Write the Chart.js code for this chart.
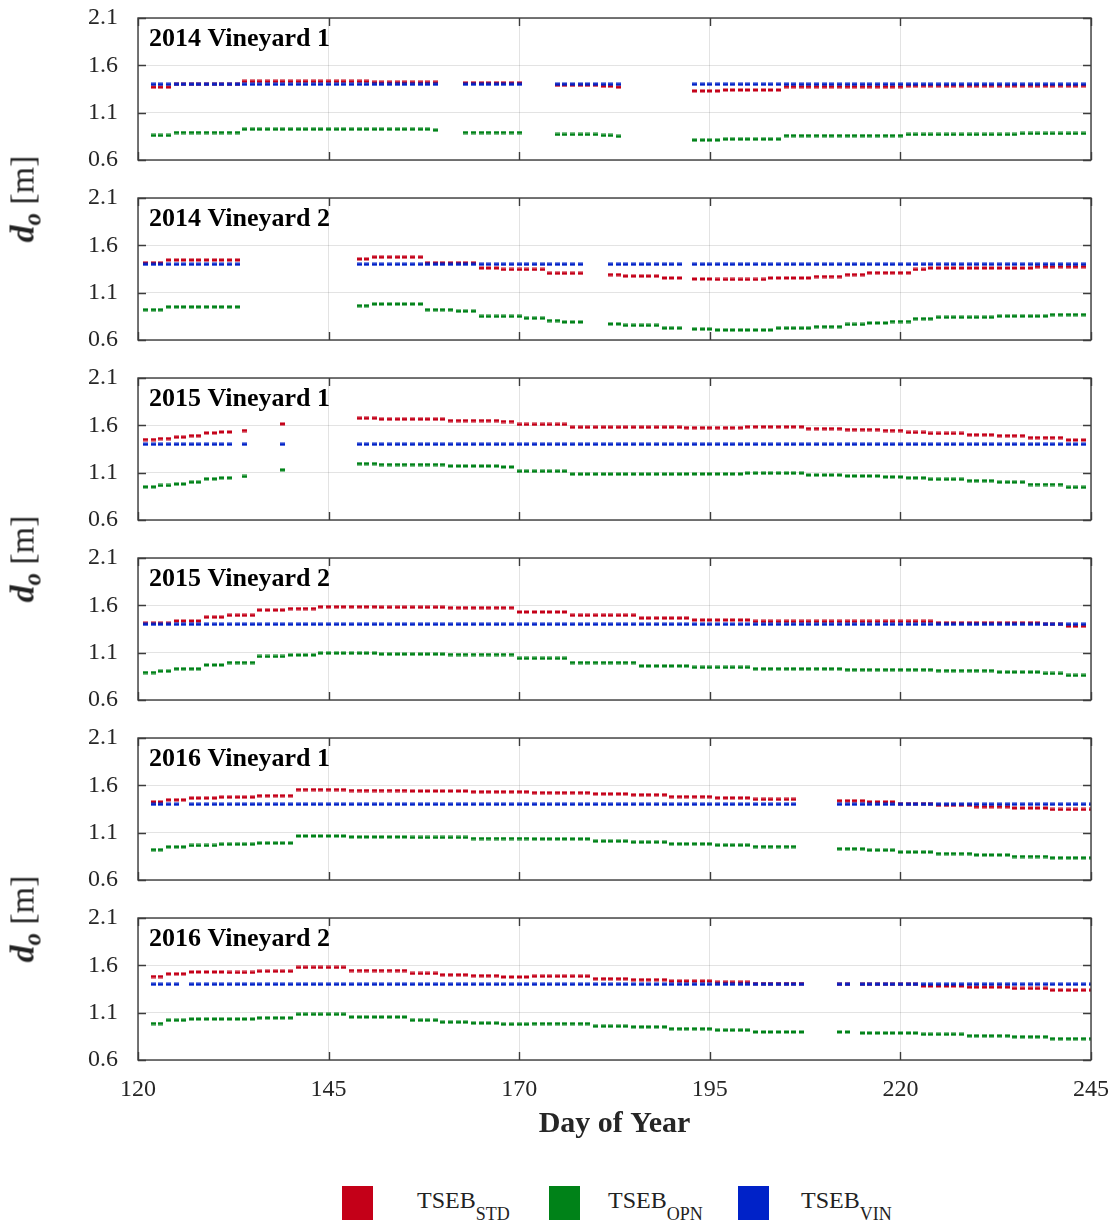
<!DOCTYPE html>
<html>
<head>
<meta charset="utf-8">
<title>Zero-plane displacement by vineyard</title>
<script src="https://cdn.jsdelivr.net/npm/chart.js@4.4.1/dist/chart.umd.min.js"></script>
<style>
    body { margin: 0; background: #fff; }
    #page {
        position: relative; width: 1119px; height: 1228px; overflow: hidden;
        font-family: 'Liberation Serif', 'Times New Roman', serif; color: #262626;
    }
    canvas.panel { position: absolute; left: 0; }
    .ytitle {
        position: absolute; left: 24px; font-size: 34px; line-height: 34px; white-space: nowrap;
        transform: translate(-50%, -50%) rotate(-90deg); color: #222;
    }
    .ytitle b { font-style: italic; }
    .ytitle .sub { position: relative; top: 0.3em; font-size: 0.72em; }
    .legend-box { position: absolute; width: 31px; height: 34px; top: 1186px; }
    .legend-text { position: absolute; top: 1188px; font-size: 24px; line-height: 24px; white-space: nowrap; color: #222; }
    .legend-text .sub { position: relative; top: 12px; font-size: 18px; }
</style>
</head>
<body>
<div id="page"></div>
<script>
// --- 1. DATA (runs: [first day, last day, d_o in m]) ---
const dayTicks = [120, 145, 170, 195, 220, 245];
const doTicks = [0.6, 1.1, 1.6, 2.1];
const panelTitles = ['2014 Vineyard 1', '2014 Vineyard 2', '2015 Vineyard 1',
                     '2015 Vineyard 2', '2016 Vineyard 1', '2016 Vineyard 2'];
const seriesNames = ['STD', 'OPN', 'VIN'];
const seriesColors = ['#c40018', '#008218', '#0022c8'];

const std2014v1 = [[122,124,1.37],[125,133,1.40],[134,150,1.43],[151,159,1.42],[163,170,1.415],[175,180,1.39],[181,182,1.38],[183,183,1.37],[193,196,1.33],[197,204,1.34],[205,220,1.375],[221,244,1.385]];
const opn2014v1 = [[122,124,0.86],[125,133,0.89],[134,158,0.925],[159,159,0.915],[163,170,0.89],[175,180,0.87],[181,182,0.86],[183,183,0.85],[193,196,0.81],[197,204,0.82],[205,220,0.857],[221,235,0.87],[236,244,0.88]];
const vin2014v1 = [[122,159,1.40],[163,170,1.40],[175,183,1.40],[193,244,1.40]];

const std2014v2 = [[121,123,1.415],[124,133,1.445],[149,150,1.455],[151,157,1.475],[158,164,1.415],[165,167,1.36],[168,173,1.345],[174,178,1.305],[182,183,1.29],[184,188,1.275],[189,191,1.255],[193,195,1.245],[196,202,1.24],[203,208,1.255],[209,212,1.27],[213,215,1.29],[216,221,1.31],[222,223,1.345],[224,237,1.36],[238,244,1.375]];
const opn2014v2 = [[121,123,0.92],[124,133,0.95],[149,150,0.962],[151,157,0.98],[158,161,0.92],[162,164,0.905],[165,170,0.85],[171,173,0.83],[174,175,0.805],[176,178,0.79],[182,183,0.77],[184,188,0.755],[189,191,0.725],[193,195,0.715],[196,203,0.705],[204,208,0.725],[209,212,0.74],[213,215,0.765],[216,218,0.78],[219,221,0.795],[222,224,0.825],[225,232,0.84],[233,239,0.852],[240,244,0.868]];
const vin2014v2 = [[121,133,1.40],[149,178,1.40],[182,191,1.40],[193,244,1.40]];

const std2015v1 = [[121,122,1.45],[123,124,1.46],[125,126,1.475],[127,128,1.49],[129,130,1.52],[131,132,1.53],[134,134,1.545],[139,139,1.615],[149,151,1.675],[152,160,1.665],[161,167,1.65],[168,169,1.64],[170,176,1.61],[177,191,1.58],[192,199,1.575],[200,207,1.585],[208,212,1.565],[213,217,1.555],[218,220,1.545],[221,223,1.525],[224,228,1.515],[229,232,1.5],[233,236,1.49],[237,241,1.47],[242,244,1.445]];
const opn2015v1 = [[121,122,0.95],[123,124,0.965],[125,126,0.98],[127,128,1.0],[129,130,1.035],[131,132,1.045],[134,134,1.06],[139,139,1.13],[149,151,1.195],[152,160,1.185],[161,167,1.17],[168,169,1.16],[170,176,1.115],[177,191,1.085],[192,199,1.087],[200,207,1.095],[208,212,1.075],[213,217,1.065],[218,220,1.055],[221,223,1.045],[224,228,1.03],[229,232,1.015],[233,236,1.0],[237,241,0.975],[242,244,0.945]];
const vin2015v1 = [[121,132,1.40],[134,134,1.40],[139,139,1.40],[149,244,1.40]];

const std2015v2 = [[121,124,1.41],[125,128,1.435],[129,131,1.475],[132,135,1.495],[136,139,1.55],[140,143,1.565],[144,151,1.585],[152,160,1.58],[161,169,1.575],[170,176,1.53],[177,185,1.495],[186,192,1.465],[193,200,1.445],[201,224,1.43],[225,238,1.415],[239,241,1.40],[242,244,1.38]];
const opn2015v2 = [[121,122,0.89],[123,124,0.905],[125,128,0.93],[129,131,0.97],[132,135,0.995],[136,139,1.06],[140,143,1.075],[144,151,1.095],[152,160,1.085],[161,169,1.08],[170,176,1.04],[177,185,0.995],[186,192,0.96],[193,200,0.945],[201,212,0.93],[213,224,0.92],[225,232,0.91],[233,238,0.895],[239,241,0.88],[242,244,0.86]];
const vin2015v2 = [[121,244,1.40]];

const std2016v1 = [[122,123,1.425],[124,126,1.447],[127,130,1.465],[131,135,1.475],[136,140,1.49],[141,147,1.555],[148,155,1.545],[156,163,1.54],[164,171,1.532],[172,179,1.522],[180,184,1.51],[185,189,1.5],[190,195,1.48],[196,200,1.468],[201,206,1.452],[212,215,1.437],[216,219,1.425],[220,224,1.405],[225,229,1.39],[230,234,1.375],[235,239,1.36],[240,245,1.345]];
const opn2016v1 = [[122,123,0.92],[124,126,0.95],[127,130,0.965],[131,135,0.978],[136,140,0.99],[141,147,1.065],[148,155,1.055],[156,163,1.05],[164,171,1.038],[172,179,1.035],[180,184,1.01],[185,189,1.0],[190,195,0.982],[196,200,0.968],[201,206,0.952],[212,215,0.93],[216,219,0.915],[220,224,0.895],[225,229,0.878],[230,234,0.865],[235,239,0.848],[240,245,0.835]];
const vin2016v1 = [[122,125,1.40],[127,206,1.40],[212,245,1.40]];

const std2016v2 = [[122,123,1.482],[124,126,1.51],[127,131,1.53],[132,135,1.525],[136,140,1.538],[141,147,1.578],[148,155,1.545],[156,159,1.515],[160,163,1.5],[164,167,1.49],[168,171,1.477],[172,179,1.485],[180,184,1.458],[185,189,1.448],[190,195,1.433],[196,200,1.42],[201,207,1.408],[212,213,1.40],[215,222,1.40],[223,228,1.382],[229,234,1.37],[235,239,1.356],[240,245,1.338]];
const opn2016v2 = [[122,123,0.985],[124,126,1.02],[127,131,1.033],[132,135,1.033],[136,140,1.045],[141,147,1.083],[148,155,1.054],[156,159,1.02],[160,163,1.0],[164,167,0.99],[168,171,0.978],[172,179,0.984],[180,184,0.957],[185,189,0.95],[190,195,0.93],[196,200,0.915],[201,207,0.896],[212,213,0.896],[215,222,0.885],[223,228,0.872],[229,234,0.856],[235,239,0.845],[240,245,0.825]];
const vin2016v2 = [[122,125,1.40],[127,207,1.40],[212,213,1.40],[215,245,1.40]];

const panelSeries = [
    [std2014v1, opn2014v1, vin2014v1],
    [std2014v2, opn2014v2, vin2014v2],
    [std2015v1, opn2015v1, vin2015v1],
    [std2015v2, opn2015v2, vin2015v2],
    [std2016v1, opn2016v1, vin2016v1],
    [std2016v2, opn2016v2, vin2016v2]
];

// --- 2. LAYOUT ---
const LAYOUT = {
    PANEL_STEP: 180,
    FIRST_TOP: 6,        // canvas top of first panel
    PAD_TOP: 12,
    AREA_H: 142,
    AXIS_LEFT: 138,
    PAD_RIGHT: 28,
    LAST_AXIS_H: 82,
    FONT: "'Liberation Serif', 'Times New Roman', serif",
    TEXT: '#262626',
    FRAME: '#3c3c3c',
    GRID: 'rgba(0,0,0,0.11)'
};

// each daily value of a run becomes one point
const toPoints = runs => runs.flatMap(([d0, d1, v]) => {
    const pts = [];
    for (let d = d0; d <= d1; d++) pts.push({ x: d, y: v });
    return pts;
});

// short horizontal dash used as the marker
function dashMark(color) {
    const c = document.createElement('canvas');
    c.width = 5; c.height = 4;
    const g = c.getContext('2d');
    g.fillStyle = color;
    g.fillRect(0, 0.5, 5, 3);
    return c;
}
const marks = seriesColors.map(dashMark);

// box, inward ticks and the panel label
const framePlugin = {
    id: 'panelFrame',
    afterDraw(chart, args, opts) {
        const { ctx, chartArea: a, scales } = chart;
        ctx.save();
        ctx.strokeStyle = LAYOUT.FRAME;
        ctx.lineWidth = 1.4;
        ctx.strokeRect(a.left, a.top, a.right - a.left, a.bottom - a.top);
        ctx.beginPath();
        scales.x.ticks.forEach(t => {
            const px = Math.round(scales.x.getPixelForValue(t.value)) + 0.5;
            ctx.moveTo(px, a.top); ctx.lineTo(px, a.top + 8);
            ctx.moveTo(px, a.bottom); ctx.lineTo(px, a.bottom - 8);
        });
        scales.y.ticks.forEach(t => {
            const py = Math.round(scales.y.getPixelForValue(t.value)) + 0.5;
            ctx.moveTo(a.left, py); ctx.lineTo(a.left + 8, py);
            ctx.moveTo(a.right, py); ctx.lineTo(a.right - 8, py);
        });
        ctx.stroke();
        ctx.fillStyle = '#000';
        ctx.font = `bold 26px ${LAYOUT.FONT}`;
        ctx.textBaseline = 'alphabetic';
        ctx.fillText(opts.label, a.left + 11, a.top + 28);
        ctx.restore();
    }
};

// --- 3. BUILD PANELS ---
const page = document.getElementById('page');

panelSeries.forEach((series, i) => {
    const isLast = i === panelSeries.length - 1;
    const canvas = document.createElement('canvas');
    canvas.className = 'panel';
    canvas.width = 1119;
    canvas.height = LAYOUT.PAD_TOP + LAYOUT.AREA_H + (isLast ? LAYOUT.LAST_AXIS_H : 12);
    canvas.style.top = (LAYOUT.FIRST_TOP + i * LAYOUT.PANEL_STEP) + 'px';
    page.appendChild(canvas);

    new Chart(canvas, {
        type: 'scatter',
        data: {
            datasets: series.map((runs, k) => ({
                label: 'TSEB ' + seriesNames[k],
                data: toPoints(runs),
                pointStyle: marks[k],
                backgroundColor: seriesColors[k],
                borderColor: seriesColors[k],
                order: 2 - k       // VIN on top, STD underneath
            }))
        },
        options: {
            responsive: false,
            animation: false,
            events: [],
            layout: { padding: { top: LAYOUT.PAD_TOP, right: LAYOUT.PAD_RIGHT, left: 0, bottom: 0 } },
            plugins: {
                legend: { display: false },
                tooltip: { enabled: false },
                panelFrame: { label: panelTitles[i] }
            },
            scales: {
                x: {
                    type: 'linear', min: 120, max: 245,
                    afterBuildTicks: s => { s.ticks = dayTicks.map(v => ({ value: v })); },
                    afterFit: s => {
                        s.height = isLast ? LAYOUT.LAST_AXIS_H : 12;
                        s.paddingLeft = 0; s.paddingRight = 0;
                    },
                    grid: { color: LAYOUT.GRID, drawTicks: false },
                    border: { display: false },
                    ticks: {
                        display: isLast, padding: 15, maxRotation: 0,
                        color: LAYOUT.TEXT, font: { family: LAYOUT.FONT, size: 24 }
                    },
                    title: {
                        display: isLast, text: 'Day of Year', color: LAYOUT.TEXT,
                        padding: 0, font: { family: LAYOUT.FONT, size: 30, weight: 'bold' }
                    }
                },
                y: {
                    type: 'linear', min: 0.6, max: 2.1,
                    afterBuildTicks: s => { s.ticks = doTicks.map(v => ({ value: v })); },
                    afterFit: s => {
                        s.width = LAYOUT.AXIS_LEFT;
                        s.paddingTop = 0; s.paddingBottom = 0;
                    },
                    grid: { color: LAYOUT.GRID, drawTicks: false },
                    border: { display: false },
                    ticks: {
                        padding: 20, color: LAYOUT.TEXT,
                        font: { family: LAYOUT.FONT, size: 24 },
                        callback: v => v.toFixed(1)
                    }
                }
            }
        },
        plugins: [framePlugin]
    });
});

// --- 4. SHARED AXIS TITLES & LEGEND ---
[199, 559, 919].forEach(cy => {
    const t = document.createElement('div');
    t.className = 'ytitle';
    t.style.top = cy + 'px';
    t.innerHTML = '<b>d</b><b class="sub">o</b> [m]';
    page.appendChild(t);
});

const legendBoxX = [342, 549, 738];
const legendTextX = [417, 608, 801];
seriesNames.forEach((name, k) => {
    const box = document.createElement('div');
    box.className = 'legend-box';
    box.style.left = legendBoxX[k] + 'px';
    box.style.background = seriesColors[k];
    page.appendChild(box);

    const txt = document.createElement('div');
    txt.className = 'legend-text';
    txt.style.left = legendTextX[k] + 'px';
    txt.innerHTML = 'TSEB<span class="sub">' + name + '</span>';
    page.appendChild(txt);
});
</script>
</body>
</html>
